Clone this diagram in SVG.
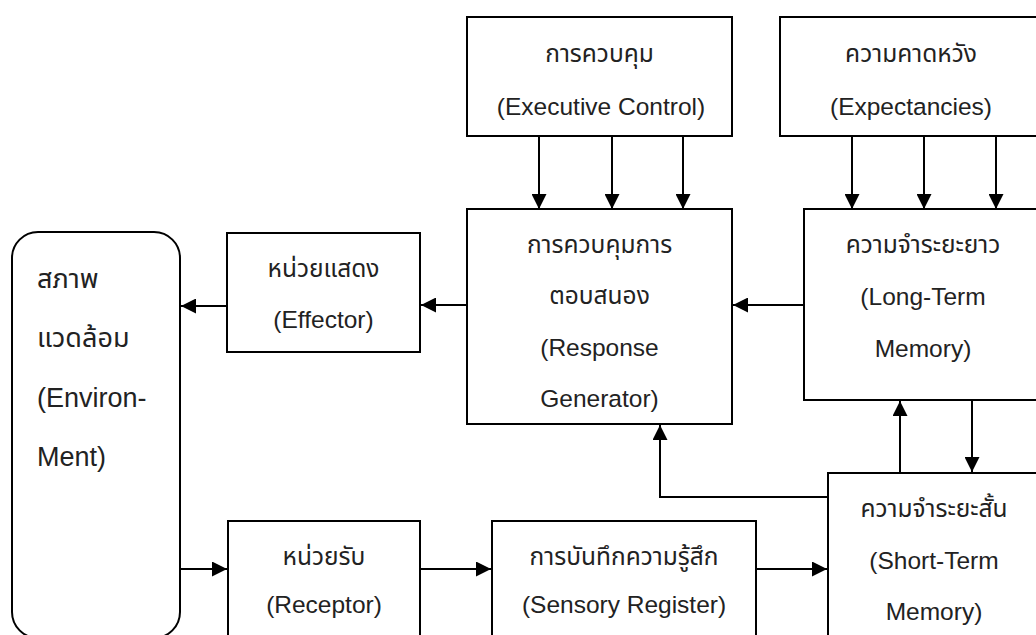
<svg xmlns="http://www.w3.org/2000/svg" width="1036" height="635" viewBox="0 0 1036 635">
<style>
.box{fill:#fff;stroke:#000;stroke-width:2}
.t{font-family:"Liberation Sans","Noto Sans Thai","Noto Sans",Arial,sans-serif;font-size:24.5px;fill:#222;text-anchor:middle}
.env{font-family:"Liberation Sans","Noto Sans Thai","Noto Sans",Arial,sans-serif;font-size:27px;fill:#222}
.c{fill:none;stroke:#000;stroke-width:2}
</style>
<defs>
<marker id="ah" markerUnits="userSpaceOnUse" markerWidth="15" markerHeight="15" refX="15" refY="7.5" orient="auto" viewBox="0 0 15 15">
<path d="M0,0 L15,7.5 L0,15 z" fill="#000"/>
</marker>
</defs>
<rect width="1036" height="635" fill="#fff"/>
<g id="connectors">
<line class="c" x1="539" y1="136" x2="539" y2="209" marker-end="url(#ah)"/>
<line class="c" x1="612" y1="136" x2="612" y2="209" marker-end="url(#ah)"/>
<line class="c" x1="683" y1="136" x2="683" y2="209" marker-end="url(#ah)"/>
<line class="c" x1="852" y1="136" x2="852" y2="209" marker-end="url(#ah)"/>
<line class="c" x1="924" y1="136" x2="924" y2="209" marker-end="url(#ah)"/>
<line class="c" x1="996" y1="136" x2="996" y2="209" marker-end="url(#ah)"/>
<line class="c" x1="804" y1="305" x2="733" y2="305" marker-end="url(#ah)"/>
<line class="c" x1="467" y1="305" x2="421" y2="305" marker-end="url(#ah)"/>
<line class="c" x1="227" y1="306" x2="181" y2="306" marker-end="url(#ah)"/>
<line class="c" x1="180" y1="569" x2="227" y2="569" marker-end="url(#ah)"/>
<line class="c" x1="420" y1="569" x2="491" y2="569" marker-end="url(#ah)"/>
<line class="c" x1="756" y1="569" x2="827" y2="569" marker-end="url(#ah)"/>
<line class="c" x1="900" y1="473" x2="900" y2="401" marker-end="url(#ah)"/>
<line class="c" x1="972" y1="400" x2="972" y2="472" marker-end="url(#ah)"/>
<path class="c" d="M828,497 H660 V425" marker-end="url(#ah)"/>
</g>
<g id="exec">
<rect class="box" x="467" y="17" width="265" height="119"/>
<text class="t" x="599.5" y="62">การควบคุม</text>
<text class="t" x="601" y="115">(Executive Control)</text>
</g>
<g id="expect">
<rect class="box" x="780" y="17" width="262" height="119"/>
<text class="t" x="911" y="62">ความคาดหวัง</text>
<text class="t" x="911" y="115">(Expectancies)</text>
</g>
<g id="response">
<rect class="box" x="467" y="209" width="265" height="215"/>
<text class="t" x="599.5" y="253">การควบคุมการ</text>
<text class="t" x="599.5" y="304">ตอบสนอง</text>
<text class="t" x="599.5" y="356">(Response</text>
<text class="t" x="599.5" y="407">Generator)</text>
</g>
<g id="ltm">
<rect class="box" x="804" y="209" width="238" height="191"/>
<text class="t" x="923" y="253">ความจำระยะยาว</text>
<text class="t" x="923" y="305">(Long-Term</text>
<text class="t" x="923" y="357">Memory)</text>
</g>
<g id="effector">
<rect class="box" x="227" y="233" width="193" height="119"/>
<text class="t" x="323.5" y="277">หน่วยแสดง</text>
<text class="t" x="323.5" y="328">(Effector)</text>
</g>
<g id="environment">
<rect class="box" x="12" y="232" width="168" height="406" rx="26" ry="26"/>
<text class="env" x="37" y="288">สภาพ</text>
<text class="env" x="37" y="347">แวดล้อม</text>
<text class="env" x="37" y="407">(Environ-</text>
<text class="env" x="37" y="466">Ment)</text>
</g>
<g id="receptor">
<rect class="box" x="228" y="521" width="192" height="130"/>
<text class="t" x="324" y="565">หน่วยรับ</text>
<text class="t" x="324" y="613">(Receptor)</text>
</g>
<g id="sensory">
<rect class="box" x="492" y="521" width="264" height="130"/>
<text class="t" x="624" y="565">การบันทึกความรู้สึก</text>
<text class="t" x="624" y="613">(Sensory Register)</text>
</g>
<g id="stm">
<rect class="box" x="828" y="473" width="214" height="180"/>
<text class="t" x="934" y="517">ความจำระยะสั้น</text>
<text class="t" x="934" y="569">(Short-Term</text>
<text class="t" x="934" y="620">Memory)</text>
</g>
</svg>
